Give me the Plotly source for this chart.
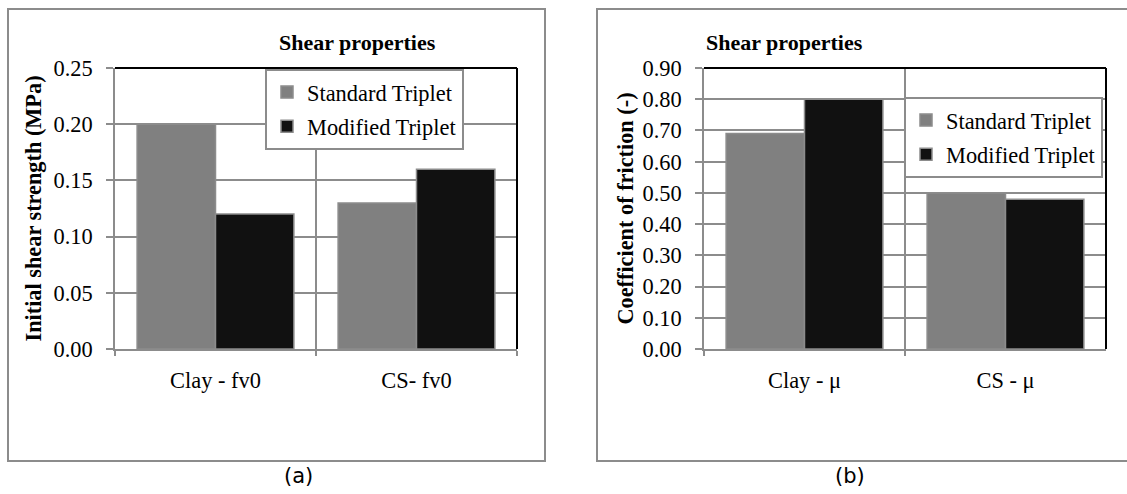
import plotly.graph_objects as go

# ---- data ----
cats_a = ["Clay - fv0", "CS- fv0"]
std_a = [0.20, 0.13]
mod_a = [0.12, 0.16]

cats_b = ["Clay - μ", "CS - μ"]
std_b = [0.69, 0.50]
mod_b = [0.80, 0.48]

series_names = ["Standard Triplet", "Modified Triplet"]
yticks_a = [0.00, 0.05, 0.10, 0.15, 0.20, 0.25]
yticks_b = [0.00, 0.10, 0.20, 0.30, 0.40, 0.50, 0.60, 0.70, 0.80, 0.90]
ytitle_a = "Initial shear strength (MPa)"
ytitle_b = "Coefficient of friction (-)"
chart_title = "Shear properties"
panel_labels = ["(a)", "(b)"]

# ---- style ----
W, H = 1127, 494
GRAY = "#808080"
BLACK = "#111111"
EDGE = "#8c8c8c"
GRID = "#8c8c8c"
SERIF = "Liberation Serif, Times New Roman, serif"
FS = 22.4


def px(x):
    return x / W


def py(y):
    return 1 - y / H


fig = go.Figure()
for i, (vals, color) in enumerate([(std_a, GRAY), (mod_a, BLACK)]):
    fig.add_trace(go.Bar(x=cats_a, y=vals, name=series_names[i],
                         marker=dict(color=color, line=dict(color=EDGE, width=1.5)),
                         xaxis="x", yaxis="y", legend="legend",
                         legendgroup="a%d" % i))
for i, (vals, color) in enumerate([(std_b, GRAY), (mod_b, BLACK)]):
    fig.add_trace(go.Bar(x=cats_b, y=vals, name=series_names[i],
                         marker=dict(color=color, line=dict(color=EDGE, width=1.5)),
                         xaxis="x2", yaxis="y2", legend="legend2",
                         legendgroup="b%d" % i))

plot_top, plot_bot = 68, 349
ydom = [py(plot_bot), py(plot_top)]

xcommon = dict(type="category", tickson="boundaries", ticks="outside", ticklen=5,
               tickcolor=GRID, tickwidth=1.5, showgrid=True, gridcolor=GRID,
               gridwidth=1.5, showline=True, linecolor=GRID, linewidth=1.5,
               tickfont=dict(family=SERIF, size=FS, color="black"),
               ticklabelstandoff=10, fixedrange=True, automargin=False)
ycommon = dict(tickformat=".2f", ticks="outside", ticklen=7, tickcolor=GRID,
               tickwidth=1.5, showgrid=True, gridcolor=GRID, gridwidth=1.5,
               showline=True, linecolor=GRID, linewidth=1.5, zeroline=False,
               tickfont=dict(family=SERIF, size=FS, color="black"),
               ticklabelstandoff=9, fixedrange=True, automargin=False)

fig.update_layout(
    width=W, height=H,
    margin=dict(l=0, r=0, t=0, b=0, autoexpand=False),
    paper_bgcolor="white", plot_bgcolor="white",
    barmode="group", bargap=0.22, bargroupgap=0,
    showlegend=True,
    xaxis=dict(domain=[px(115), px(517)], anchor="y", **xcommon),
    yaxis=dict(domain=ydom, anchor="x", range=[0, 0.25], tickvals=yticks_a,
               title=dict(text="<b>" + ytitle_a + "</b>", standoff=6,
                          font=dict(family=SERIF, size=22.3, color="black")),
               **ycommon),
    xaxis2=dict(domain=[px(704), px(1106)], anchor="y2", **xcommon),
    yaxis2=dict(domain=ydom, anchor="x2", range=[0, 0.9], tickvals=yticks_b,
                title=dict(text="<b>" + ytitle_b + "</b>", standoff=3,
                           font=dict(family=SERIF, size=22.3, color="black")),
                **ycommon),
    legend=dict(x=px(265), y=py(69), xanchor="left", yanchor="top",
                bgcolor="white", bordercolor=GRID, borderwidth=2,
                font=dict(family=SERIF, size=FS, color="black"),
                traceorder="grouped", tracegroupgap=2),
    legend2=dict(x=px(904), y=py(97), xanchor="left", yanchor="top",
                 bgcolor="white", bordercolor=GRID, borderwidth=2,
                 font=dict(family=SERIF, size=FS, color="black"),
                 traceorder="grouped", tracegroupgap=2),
)

# black top and right plot borders
for xr, yr in [("x domain", "y domain"), ("x2 domain", "y2 domain")]:
    fig.add_shape(type="line", xref=xr, yref=yr, x0=0, x1=1, y0=1, y1=1,
                  line=dict(color="black", width=2))
    fig.add_shape(type="line", xref=xr, yref=yr, x0=1, x1=1, y0=0, y1=1,
                  line=dict(color="black", width=2))

# outer frames
fig.add_shape(type="rect", xref="paper", yref="paper",
              x0=px(8), x1=px(545), y0=py(461), y1=py(9),
              line=dict(color=GRID, width=2), layer="below")
fig.add_shape(type="rect", xref="paper", yref="paper",
              x0=px(597), x1=px(1135), y0=py(461), y1=py(9),
              line=dict(color=GRID, width=2), layer="below")

# chart titles
for xc in [277, 865]:
    fig.add_annotation(x=px(xc), y=py(43), xref="paper", yref="paper",
                       yanchor="middle", text="<b>" + chart_title + "</b>",
                       showarrow=False,
                       font=dict(family=SERIF, size=22, color="black"))

# panel labels
for xc, lab in zip([282, 867], panel_labels):
    fig.add_annotation(x=px(xc), y=py(476), xref="paper", yref="paper",
                       yanchor="middle", text=lab, showarrow=False,
                       font=dict(family="DejaVu Sans, sans-serif", size=21, color="black"))

fig.write_html("out.html", config={"displayModeBar": False},
               post_script="document.body.style.margin='0';"
                           "document.body.style.overflow='hidden';")
